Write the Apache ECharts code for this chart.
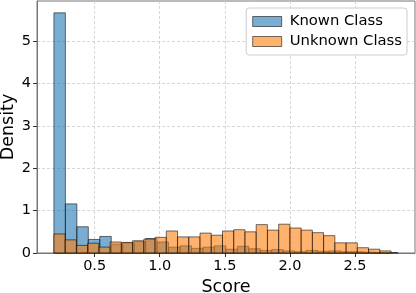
<!DOCTYPE html>
<html>
<head>
<meta charset="utf-8">
<script src="https://cdn.jsdelivr.net/npm/echarts@6/dist/echarts.min.js"></script>
<style>
html,body{margin:0;padding:0;background:#fff;}
#chart{width:416px;height:293px;}
</style>
</head>
<body>
<div id="chart"></div>
<script>
// Histogram bins (30 equal-width bins per class)
const knownBinRange = [0.187, 2.829];
const unknownBinRange = [0.187, 2.777];
const knownDensity = [5.67, 1.16, 0.62, 0.32, 0.39, 0.21, 0.24, 0.27, 0.34, 0.26,
                      0.14, 0.17, 0.11, 0.14, 0.17, 0.09, 0.16, 0.10, 0.06, 0.08,
                      0.05, 0.03, 0.06, 0.04, 0.05, 0.03, 0.03, 0.02, 0.01, 0.01];
const unknownDensity = [0.45, 0.31, 0.18, 0.23, 0.14, 0.26, 0.25, 0.29, 0.33, 0.37,
                        0.52, 0.38, 0.38, 0.47, 0.42, 0.52, 0.55, 0.50, 0.67, 0.54,
                        0.68, 0.59, 0.54, 0.48, 0.41, 0.24, 0.24, 0.125, 0.09, 0.05];
const xTicks = [0.5, 1.0, 1.5, 2.0, 2.5];
const yTicks = [0, 1, 2, 3, 4, 5];
const seriesNames = ['Known Class', 'Unknown Class'];
const xLabel = 'Score';
const yLabel = 'Density';

function toBins(range, dens) {
  const n = dens.length, w = (range[1] - range[0]) / n;
  return dens.map((d, i) => [range[0] + i * w, range[0] + (i + 1) * w, d]);
}

const blueFill = 'rgba(31,119,180,0.6)';
const orangeFill = 'rgba(255,127,14,0.6)';
const edge = 'rgba(0,0,0,0.55)';

function renderBar(fill) {
  return function (params, api) {
    const p0 = api.coord([api.value(0), api.value(2)]);
    const p1 = api.coord([api.value(1), 0]);
    return {
      type: 'rect',
      shape: {x: p0[0], y: p0[1], width: p1[0] - p0[0], height: p1[1] - p0[1]},
      style: {fill: fill, stroke: edge, lineWidth: 1}
    };
  };
}

const font = 'DejaVu Sans';
const chart = echarts.init(document.getElementById('chart'), null, {renderer: 'canvas'});
chart.setOption({
  animation: false,
  textStyle: {fontFamily: font},
  grid: {left: 37, right: 1, top: 1, bottom: 40, containLabel: false, outerBoundsMode: 'none',
         show: true, borderColor: '#777', borderWidth: 1, backgroundColor: 'transparent'},
  legend: {
    orient: 'vertical', right: 9, top: 8,
    itemWidth: 29, itemHeight: 10, itemGap: 5,
    padding: [6, 5, 6, 6],
    backgroundColor: 'rgba(255,255,255,0.85)', borderColor: '#ccc', borderWidth: 1, borderRadius: 3,
    textStyle: {fontFamily: font, fontSize: 14.8, color: '#000', padding: [0, 0, 0, 3]},
    data: [
      {name: seriesNames[0], icon: 'rect', itemStyle: {color: blueFill, borderColor: edge, borderWidth: 1}},
      {name: seriesNames[1], icon: 'rect', itemStyle: {color: orangeFill, borderColor: edge, borderWidth: 1}}
    ]
  },
  xAxis: {
    type: 'value', min: 0.057, max: 2.961,
    name: xLabel, nameLocation: 'middle', nameGap: 25, nameMoveOverlap: false,
    nameTextStyle: {fontFamily: font, fontSize: 17.5, color: '#000'},
    axisLine: {show: true, lineStyle: {color: '#777'}},
    axisTick: {show: true, length: 4, customValues: xTicks, lineStyle: {color: '#333'}},
    axisLabel: {customValues: xTicks, fontFamily: font, fontSize: 14.5, color: '#000', margin: 6,
      formatter: v => v.toFixed(1)},
    splitLine: {show: true, lineStyle: {color: '#ccc', type: [3, 2], width: 0.8}}
  },
  yAxis: {
    type: 'value', min: 0, max: 5.95,
    name: yLabel, nameLocation: 'middle', nameGap: 20, nameMoveOverlap: false,
    nameTextStyle: {fontFamily: font, fontSize: 17.5, color: '#000'},
    axisLine: {show: true, lineStyle: {color: '#777'}},
    axisTick: {show: true, length: 4, customValues: yTicks, lineStyle: {color: '#333'}},
    axisLabel: {customValues: yTicks, fontFamily: font, fontSize: 14.5, color: '#000', margin: 6},
    splitLine: {show: true, lineStyle: {color: '#ccc', type: [3, 2], width: 0.8}}
  },
  series: [
    {name: seriesNames[0], type: 'custom', renderItem: renderBar(blueFill),
     itemStyle: {color: blueFill}, encode: {x: [0, 1], y: 2},
     data: toBins(knownBinRange, knownDensity)},
    {name: seriesNames[1], type: 'custom', renderItem: renderBar(orangeFill),
     itemStyle: {color: orangeFill}, encode: {x: [0, 1], y: 2},
     data: toBins(unknownBinRange, unknownDensity)}
  ]
});
</script>
</body>
</html>
